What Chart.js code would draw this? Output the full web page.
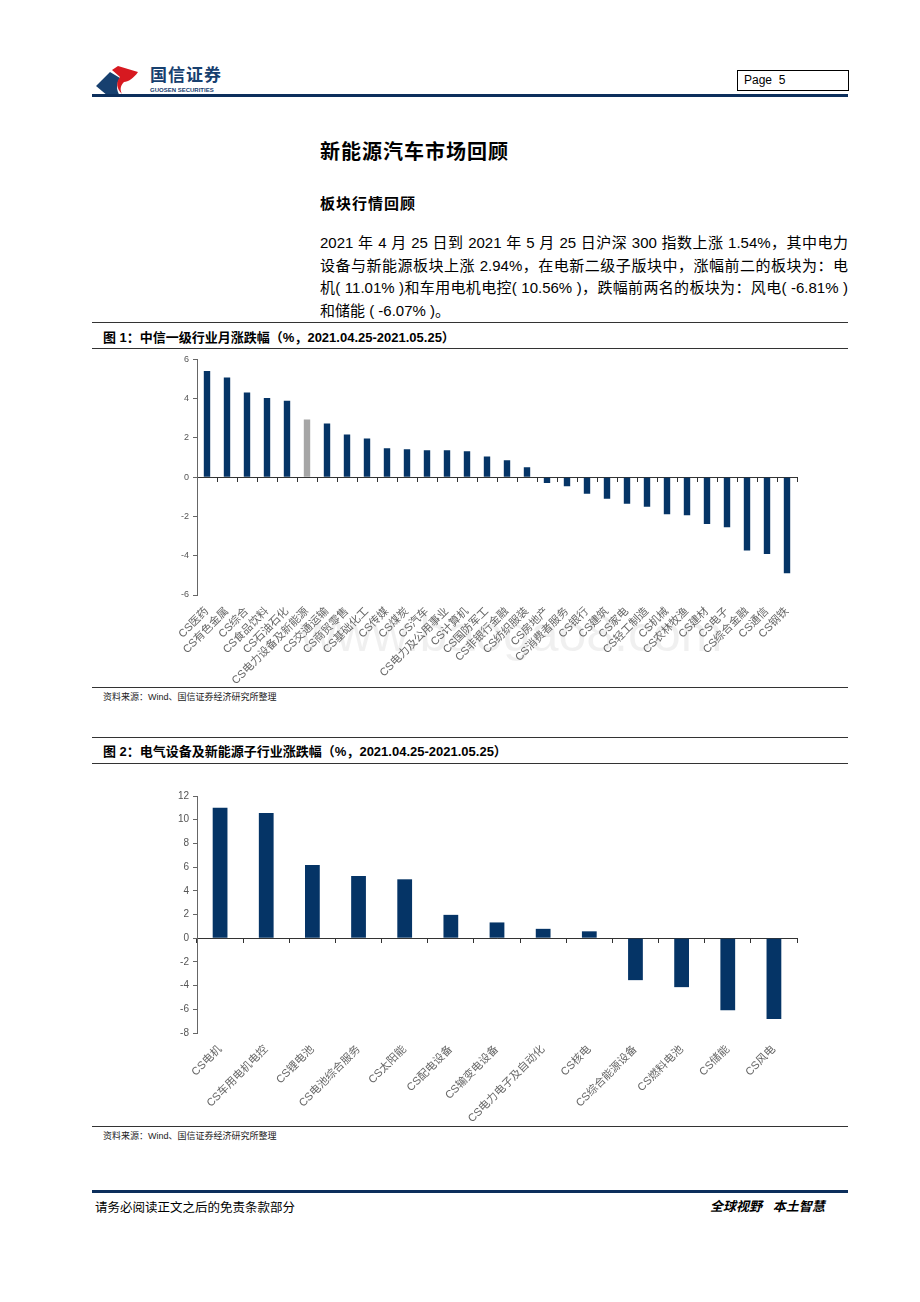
<!DOCTYPE html>
<html>
<head>
<meta charset="utf-8">
<script src="https://cdn.jsdelivr.net/npm/chart.js@4/dist/chart.umd.min.js"></script>
<style>
    body {
        margin: 0;
        width: 920px;
        height: 1302px;
        background: #fff;
        position: relative;
        font-family: "Liberation Sans", "Noto Sans CJK SC", sans-serif;
        color: #000;
        overflow: hidden;
    }
    .abs { position: absolute; }
    .rule { position: absolute; left: 92px; width: 756px; height: 1px; background: #333; }
    .navy { position: absolute; left: 92px; width: 756px; height: 3px; background: #0c2f5c; }
    .fig-title { position: absolute; left: 103px; font-size: 13px; font-weight: bold; }
    .source { position: absolute; left: 103px; font-size: 9px; color: #222; }
    .para { position: absolute; left: 320px; top: 232px; width: 528px; font-size: 15px; }
    .para div { height: 22.7px; line-height: 22.7px; text-align: justify; text-align-last: justify; white-space: nowrap; }
    .para div.last { text-align-last: left; }
    .watermark {
        position: absolute; left: 300px; top: 605px; font-size: 50px;
        color: rgba(0, 0, 0, 0.06);
    }
</style>
</head>
<body>

<svg class="abs" style="left:94px;top:64px" width="50" height="34" viewBox="0 0 50 34">
    <path d="M2 22 L16 8 L26 14 C22 20 22 26 26 32 L14 32 Z" fill="#17406f"/>
    <path d="M18 6 L24 2 L44 8 C40 14 34 18 30 18 C26 22 26 26 28 30 C22 24 22 18 26 13 Z" fill="#d71920"/>
</svg>
<div class="abs" style="left:150px;top:67px;font-size:17px;line-height:17px;font-weight:bold;color:#17406f;letter-spacing:1px">国信证券</div>
<div class="abs" style="left:150px;top:87px;font-size:6px;line-height:6px;font-weight:bold;color:#17406f">GUOSEN SECURITIES</div>

<div class="abs" style="left:737px;top:70px;font-size:12px;line-height:19px;padding-left:6px;box-sizing:border-box;width:112px;height:21px;border:1px solid #000">Page&nbsp;&nbsp;5</div>
<div class="navy" style="top:94px"></div>

<div class="abs" style="left:320px;top:136px;font-size:20px;font-weight:bold;letter-spacing:1px">新能源汽车市场回顾</div>
<div class="abs" style="left:320px;top:192px;font-size:15px;font-weight:bold;letter-spacing:1px">板块行情回顾</div>
<div class="para">
    <div>2021 年 4 月 25 日到 2021 年 5 月 25 日沪深 300 指数上涨 1.54%，其中电力</div>
    <div>设备与新能源板块上涨 2.94%，在电新二级子版块中，涨幅前二的板块为：电</div>
    <div>机( 11.01% )和车用电机电控( 10.56% )，跌幅前两名的板块为：风电( -6.81% )</div>
    <div class="last">和储能 ( -6.07% )。</div>
</div>

<div class="rule" style="top:322px"></div>
<div class="fig-title" style="top:327px">图 1：中信一级行业月涨跌幅（%，2021.04.25-2021.05.25）</div>
<div class="rule" style="top:348px"></div>
<div class="watermark">www.baogao8.com</div>
<canvas id="industryChart" class="abs" style="left:92px;top:350px" width="756" height="336"></canvas>
<div class="rule" style="top:687px"></div>
<div class="source" style="top:690px">资料来源：Wind、国信证券经济研究所整理</div>

<div class="rule" style="top:737px"></div>
<div class="fig-title" style="top:741px">图 2：电气设备及新能源子行业涨跌幅（%，2021.04.25-2021.05.25）</div>
<div class="rule" style="top:763px"></div>
<canvas id="subChart" class="abs" style="left:92px;top:766px" width="756" height="360"></canvas>
<div class="rule" style="top:1126px"></div>
<div class="source" style="top:1129px">资料来源：Wind、国信证券经济研究所整理</div>

<div class="navy" style="top:1190px"></div>
<div class="abs" style="left:95px;top:1197px;font-size:12.5px">请务必阅读正文之后的免责条款部分</div>
<div class="abs" style="left:710px;top:1196px;font-size:13px;font-weight:bold;font-style:italic">全球视野&nbsp;&nbsp;&nbsp;本土智慧</div>

<script>

const industryLabels = [
    'CS医药', 'CS有色金属', 'CS综合', 'CS食品饮料', 'CS石油石化',
    'CS电力设备及新能源', 'CS交通运输', 'CS商贸零售', 'CS基础化工', 'CS传媒',
    'CS煤炭', 'CS汽车', 'CS电力及公用事业', 'CS计算机', 'CS国防军工',
    'CS非银行金融', 'CS纺织服装', 'CS房地产', 'CS消费者服务', 'CS银行',
    'CS建筑', 'CS家电', 'CS轻工制造', 'CS机械', 'CS农林牧渔',
    'CS建材', 'CS电子', 'CS综合金融', 'CS通信', 'CS钢铁'
];

const industryChange = [
    5.41, 5.08, 4.32, 4.03, 3.90,
    2.94, 2.73, 2.18, 1.97, 1.47,
    1.42, 1.37, 1.37, 1.32, 1.06,
    0.86, 0.51, -0.30, -0.46, -0.84,
    -1.10, -1.35, -1.50, -1.89, -1.94,
    -2.39, -2.55, -3.73, -3.91, -4.89
];

const highlightIndustry = 'CS电力设备及新能源';

const industryTicks = [-6, 6];

const subLabels = [
    'CS电机', 'CS车用电机电控', 'CS锂电池', 'CS电池综合服务', 'CS太阳能',
    'CS配电设备', 'CS输变电设备', 'CS电力电子及自动化', 'CS核电',
    'CS综合能源设备', 'CS燃料电池', 'CS储能', 'CS风电'
];

const subChange = [
    11.01, 10.56, 6.18, 5.25, 4.97,
    1.97, 1.33, 0.79, 0.58,
    -3.54, -4.13, -6.07, -6.81
];

const subTicks = [-8, 12];

const NAVY = '#053466';
const GREY = '#a6a6a6';

function buildBarChart(canvasId, labels, values, range, colors, opts) {

    const ctx =
        document.getElementById(canvasId);

    if (!ctx) {
        return;
    }

    new Chart(ctx, {

        type: 'bar',

        data: {
            labels: labels,
            datasets: [{
                data: values,
                backgroundColor: colors,
                barPercentage: 0.32,
                categoryPercentage: 1
            }]
        },

        options: {

            responsive: false,
            animation: false,

            layout: {
                padding: { top: opts.top, right: 51, left: 0, bottom: 0 }
            },

            plugins: {
                legend: { display: false },
                tooltip: { enabled: false }
            },

            scales: {

                x: {
                    position: 'bottom',
                    offset: true,
                    grid: { display: false },
                    border: { display: false },
                    ticks: {
                        autoSkip: false,
                        minRotation: 45,
                        maxRotation: 45,
                        padding: 2,
                        color: '#666',
                        font: { size: opts.labelSize, family: '"Liberation Sans", "Noto Sans CJK SC"' }
                    },
                    afterFit: scale => {
                        scale.height = opts.bottom;
                    }
                },

                zero: {
                    type: 'category',
                    axis: 'x',
                    position: { y: 0 },
                    offset: true,
                    grid: {
                        offset: true,
                        drawOnChartArea: false,
                        tickLength: 4,
                        color: '#333'
                    },
                    border: { display: true, color: '#333', width: 1 },
                    ticks: { display: false }
                },

                y: {
                    min: range[0],
                    max: range[1],
                    ticks: {
                        stepSize: 2,
                        padding: 4,
                        color: '#555',
                        font: { size: opts.tickSize, family: '"Liberation Sans"' }
                    },
                    grid: {
                        color: c => c.tick && c.tick.value === 0 ? '#333' : 'transparent',
                        tickColor: '#666',
                        tickLength: 4
                    },
                    border: { display: true, color: '#666' },
                    afterFit: scale => {
                        scale.width = 105;
                    }
                }

            }

        }

    });

}

buildBarChart(
    'industryChart',
    industryLabels,
    industryChange,
    industryTicks,
    industryLabels.map(name => name === highlightIndustry ? GREY : NAVY),
    { top: 7, bottom: 91, labelSize: 11, tickSize: 9 }
);

buildBarChart(
    'subChart',
    subLabels,
    subChange,
    subTicks,
    subLabels.map(() => NAVY),
    { top: 30, bottom: 93, labelSize: 11, tickSize: 10 }
);

</script>
</body>
</html>
